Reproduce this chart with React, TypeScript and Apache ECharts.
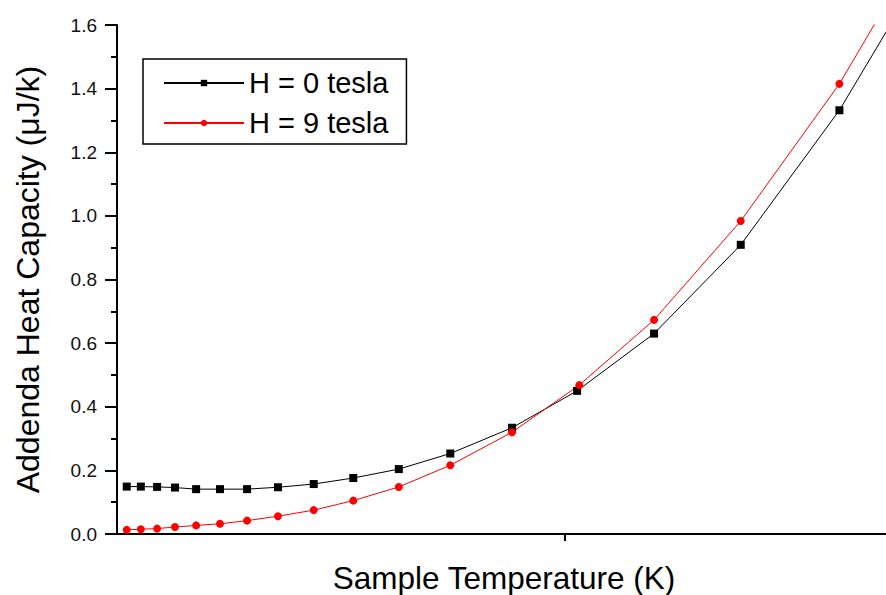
import React, { useEffect, useRef } from "react";
import * as echarts from "echarts";

const tempsH0 = [1.91, 2.17, 2.47, 2.8, 3.19, 3.63, 4.13, 4.7, 5.36, 6.09, 6.93, 7.88, 9.02, 10.22, 11.64, 13.24, 15.06, 17.12];
const heatH0 = [0.149, 0.149, 0.148, 0.146, 0.141, 0.141, 0.141, 0.147, 0.157, 0.176, 0.204, 0.253, 0.334, 0.45, 0.63, 0.909, 1.332, 1.92];
const tempsH9 = [1.91, 2.17, 2.47, 2.8, 3.19, 3.63, 4.13, 4.7, 5.36, 6.09, 6.93, 7.88, 9.02, 10.26, 11.64, 13.24, 15.06, 17.12];
const heatH9 = [0.013, 0.015, 0.017, 0.022, 0.027, 0.032, 0.042, 0.056, 0.075, 0.105, 0.148, 0.216, 0.32, 0.468, 0.673, 0.984, 1.415, 2.01];

const seriesNames = ["H = 0 tesla", "H = 9 tesla"];
const xTickValues = [10];
const xTitle = "Sample Temperature (K)";
const yTitle = "Addenda Heat Capacity (\u03bcJ/k)";

const FONT = "Arial, 'Liberation Sans', sans-serif";

export default function App() {
  const ref = useRef<HTMLDivElement>(null);
  useEffect(() => {
    if (!ref.current) return;
    const chart = echarts.init(ref.current, null, { renderer: "svg" });
    const d0 = tempsH0.map((t, i) => [t, heatH0[i]]);
    const d9 = tempsH9.map((t, i) => [t, heatH9[i]]);
    chart.setOption({
      animation: false,
      backgroundColor: "#ffffff",
      textStyle: { fontFamily: FONT },
      grid: { left: 117, top: 25, height: 509, width: 769 },
      legend: {
        orient: "vertical",
        left: 143,
        top: 59,
        padding: [9, 18, 6, 20],
        borderColor: "#000",
        borderWidth: 1.5,
        itemWidth: 80,
        itemHeight: 8,
        itemGap: 10,
        textStyle: { fontSize: 29, fontFamily: FONT, color: "#000", lineHeight: 30 },
        data: seriesNames,
      },
      xAxis: {
        type: "value",
        min: 1.73,
        max: 15.92,
        axisLine: { show: true, lineStyle: { color: "#000", width: 2 } },
        axisTick: { show: true, customValues: xTickValues, length: 7, lineStyle: { color: "#000", width: 2 } },
        axisLabel: { show: false },
        splitLine: { show: false },
      },
      yAxis: {
        type: "value",
        min: 0,
        max: 1.6,
        interval: 0.2,
        name: yTitle,
        nameLocation: "middle",
        nameRotate: 90,
        nameGap: 73,
        nameTextStyle: { fontSize: 32, fontFamily: FONT, color: "#000" },
        axisLine: { show: true, lineStyle: { color: "#000", width: 2 } },
        axisTick: { show: true, length: 12, lineStyle: { color: "#000", width: 2 } },
        minorTick: { show: true, splitNumber: 2, length: 6, lineStyle: { color: "#000", width: 2 } },
        axisLabel: {
          fontSize: 19,
          fontFamily: FONT,
          color: "#111",
          margin: 20,
          formatter: (v: number) => v.toFixed(1),
        },
        splitLine: { show: false },
      },
      graphic: [
        {
          type: "text",
          x: 504,
          y: 578,
          style: {
            text: xTitle,
            fontSize: 31.5,
            fontFamily: FONT,
            fill: "#000",
            textAlign: "center",
            textVerticalAlign: "middle",
          },
        },
      ],
      series: [
        {
          name: seriesNames[0],
          type: "line",
          data: d0,
          symbol: "rect",
          symbolSize: 8,
          clip: true,
          itemStyle: { color: "#000" },
          lineStyle: { color: "#000", width: 1 },
        },
        {
          name: seriesNames[1],
          type: "line",
          data: d9,
          symbol: "circle",
          symbolSize: 8,
          clip: true,
          itemStyle: { color: "#ff0000" },
          lineStyle: { color: "#ff0000", width: 1 },
        },
      ],
    });
    return () => chart.dispose();
  }, []);
  return (
    <div
      ref={ref}
      style={{ position: "absolute", left: 0, top: 0, width: 886, height: 595 }}
    />
  );
}
